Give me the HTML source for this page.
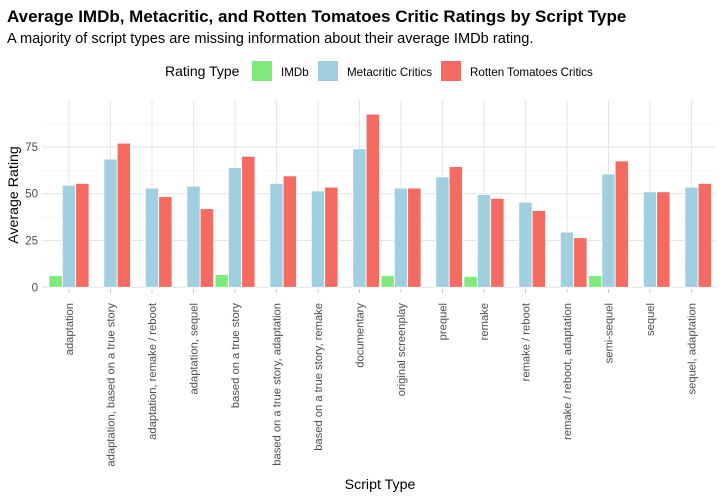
<!DOCTYPE html>
<html><head><meta charset="utf-8"><style>
body{margin:0;background:#fff;font-family:"Liberation Sans",Arial,sans-serif}
svg{display:block}
</style></head><body>
<svg id="chart" width="724" height="499" xmlns="http://www.w3.org/2000/svg">
<text x="7" y="22" font-size="17" font-weight="bold" fill="#000">Average IMDb, Metacritic, and Rotten Tomatoes Critic Ratings by Script Type</text>
<text x="7" y="43" font-size="14.6" fill="#000">A majority of script types are missing information about their average IMDb rating.</text>
<g>
<text x="165" y="76" font-size="14" fill="#000">Rating Type</text>
<rect x="252" y="61" width="20" height="20" fill="#80ea7c"/>
<text x="281" y="76" font-size="11.6" fill="#000">IMDb</text>
<rect x="318" y="61" width="20" height="20" fill="#a0d0e0"/>
<text x="347" y="76" font-size="11.6" fill="#000">Metacritic Critics</text>
<rect x="441" y="61" width="20" height="20" fill="#f66b61"/>
<text x="470" y="76" font-size="11.6" fill="#000">Rotten Tomatoes Critics</text>
</g>
<g id="grid"></g><g id="bars"></g><g id="axes"></g>
<text x="380" y="489" font-size="14.2" text-anchor="middle" fill="#000">Script Type</text>
<text transform="translate(18,195) rotate(-90)" font-size="14.2" text-anchor="middle" fill="#000">Average Rating</text>
</svg>
<script>
const categories=["adaptation","adaptation, based on a true story","adaptation, remake / reboot","adaptation, sequel","based on a true story","based on a true story, adaptation","based on a true story, remake","documentary","original screenplay","prequel","remake","remake / reboot","remake / reboot, adaptation","semi-sequel","sequel","sequel, adaptation"];
const imdb=[6.3,null,null,null,6.8,null,null,null,6.2,null,5.8,null,null,6.3,null,null];
const metacritic=[54.5,68.5,53,54,64,55.5,51.5,74,53,59,49.5,45.5,29.5,60.5,51,53.5];
const rotten=[55.5,77,48.5,42,70,59.5,53.5,92.5,53,64.5,47.5,41,26.5,67.5,51,55.5];
const yTicks=[0,25,50,75];
const seriesNames=["imdb","metacritic","rotten-tomatoes"];
const ns="http://www.w3.org/2000/svg";
const px0=42,px1=715,py0=100,py1=296;
const x0=69,step=41.5;
const xs=i=>x0+i*step;
const ys=v=>287.3-v*46.8/25;
function mk(tag,attrs,parent){const e=document.createElementNS(ns,tag);for(const k in attrs)e.setAttribute(k,attrs[k]);parent.appendChild(e);return e;}
const grid=document.getElementById('grid'),bars=document.getElementById('bars'),axes=document.getElementById('axes');
yTicks.forEach((t,i)=>{
 const mid=t+12.5;
 const m=mk('line',{x1:px0,x2:px1,y1:ys(mid),y2:ys(mid),stroke:'#f0f0f0','stroke-width':0.6},grid);
 
 
 const g=mk('line',{x1:px0,x2:px1,y1:ys(t),y2:ys(t),stroke:'#e6e6e6','stroke-width':1.1},grid);
 
 
 const l=mk('text',{x:38,y:ys(t)+4,'font-size':11.5,'text-anchor':'end',fill:'#4d4d4d'},axes);
 l.textContent=t;
 
 
});
categories.forEach((c,i)=>{
 const g=mk('line',{x1:xs(i),x2:xs(i),y1:py0,y2:287.3,stroke:'#e6e6e6','stroke-width':1.1},grid);
 
 
 const tk=mk('line',{x1:xs(i),x2:xs(i),y1:289,y2:293,stroke:'#cccccc','stroke-width':1},axes);
 
 
 const t=mk('text',{transform:`translate(${xs(i)+4},303) rotate(-90)`,'font-size':11.2,'text-anchor':'end',fill:'#4d4d4d'},axes);
 t.textContent=c;
 
 
});
const series=[imdb,metacritic,rotten],colors=['#80ea7c','#a0d0e0','#f66b61'];
const bw=40/3;
series.forEach((arr,s)=>{
 arr.forEach((v,i)=>{
  if(v===null)return;
  const x=xs(i)-20+s*bw;
  const r=mk('rect',{x:x,y:ys(v),width:bw,height:ys(0)-ys(v),fill:colors[s],stroke:'#fff','stroke-width':0.8},bars);
  
  
 });
});
</script>
</body></html>
